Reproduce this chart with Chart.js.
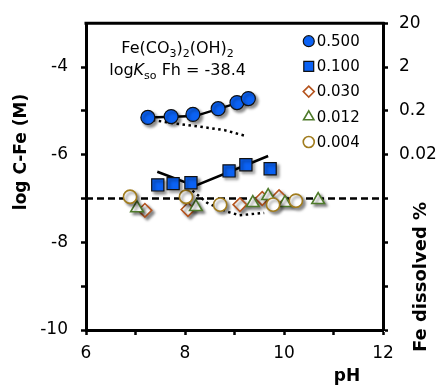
<!DOCTYPE html>
<html>
<head>
<meta charset="utf-8">
<script src="https://cdn.jsdelivr.net/npm/chart.js@4.4.1/dist/chart.umd.min.js"></script>
<style>
  html, body { margin: 0; padding: 0; background: #fff; }
  canvas { display: block; }
</style>
</head>
<body>
<canvas id="chart" width="436" height="388"></canvas>
<script>
// Fe loading of each series (legend labels)
const seriesNames = ['0.500', '0.100', '0.030', '0.012', '0.004'];

// measured points: pH and log C-Fe (M)
const ph500 = [7.25, 7.72, 8.16, 8.67, 9.05, 9.28];
const logC500 = [-5.15, -5.13, -5.08, -4.95, -4.81, -4.72];
const ph100 = [7.45, 7.76, 8.12, 8.89, 9.23, 9.72];
const logC100 = [-6.69, -6.66, -6.64, -6.37, -6.23, -6.32];
const ph030 = [7.19, 8.06, 9.11, 9.56, 9.90];
const logC030 = [-7.27, -7.25, -7.14, -7.00, -6.96];
const ph012 = [7.03, 8.22, 9.37, 9.68, 10.02, 10.69];
const logC012 = [-7.22, -7.19, -7.10, -6.94, -7.10, -7.03];
const ph004 = [6.89, 8.02, 8.71, 9.78, 10.24];
const logC004 = [-6.96, -6.96, -7.14, -7.14, -7.05];

// model curves
const fitPh500 = [7.12, 8.2, 9.35];
const fitLogC500 = [-5.16, -5.12, -4.72];
const dotPh500 = [7.35, 7.8, 8.3, 8.8, 9.25];
const dotLogC500 = [-5.21, -5.29, -5.36, -5.44, -5.58];
const fitPh100 = [7.44, 8.2, 9.68];
const fitLogC100 = [-6.39, -6.71, -6.03];
const dotPh100 = [8.15, 8.45, 8.85, 9.1, 9.6];
const dotLogC100 = [-6.82, -7.1, -7.3, -7.38, -7.33];
const limitPh = [6, 12];
const limitLogC = [-7, -7];

// right axis: Fe dissolved % at given log C-Fe
const rightTickValues = [-3, -4, -5, -6];
const rightTickLabels = ['20', '2', '0.2', '0.02'];

function toXY(xs, ys) {
  return xs.map((x, i) => ({ x: x, y: ys[i] }));
}

const markerStyles = [
  { pointStyle: 'circle', radius: 7, fill: '#0B62F4', stroke: '#111', width: 1.2, lr: 5.5 },
  { pointStyle: 'rect', radius: 8.6, fill: '#0B62F4', stroke: '#111', width: 1.2, lr: 7 },
  { pointStyle: 'rectRot', radius: 6.8, fill: '#fff', stroke: '#B5541E', width: 1.6, lr: 5.5 },
  { pointStyle: 'triangle', radius: 7.3, fill: '#fff', stroke: '#4E7A2A', width: 1.6, lr: 6 },
  { pointStyle: 'circle', radius: 6.6, fill: '#fff', stroke: '#A17C1E', width: 1.6, lr: 5.5 }
];
const seriesX = [ph500, ph100, ph030, ph012, ph004];
const seriesY = [logC500, logC100, logC030, logC012, logC004];
const drawOrder = [0, 0, 3, 2, 1];

const datasets = seriesNames.map((name, i) => ({
  label: name,
  data: toXY(seriesX[i], seriesY[i]),
  pointStyle: markerStyles[i].pointStyle,
  pointRadius: markerStyles[i].radius,
  backgroundColor: markerStyles[i].fill,
  borderColor: markerStyles[i].stroke,
  borderWidth: markerStyles[i].width,
  order: drawOrder[i],
  shadow: true
}));

function curve(xs, ys, dash) {
  return {
    data: toXY(xs, ys),
    showLine: true,
    pointRadius: 0,
    borderColor: '#000',
    borderWidth: 2.5,
    borderDash: dash,
    borderCapStyle: 'butt',
    fill: false,
    order: 5
  };
}
datasets.push(curve(fitPh500, fitLogC500, []));
datasets.push(curve(dotPh500, dotLogC500, [2.5, 3.5]));
datasets.push(curve(fitPh100, fitLogC100, []));
datasets.push(curve(dotPh100, dotLogC100, [2.5, 3.5]));
datasets.push(curve(limitPh, limitLogC, [7, 4]));

// drop shadow on the markers
const shadowPlugin = {
  id: 'shadow',
  beforeDatasetDraw(chart, args) {
    const ctx = chart.ctx;
    ctx.save();
    if (args.meta._dataset.shadow) {
      ctx.shadowColor = 'rgba(0,0,0,0.45)';
      ctx.shadowBlur = 3;
      ctx.shadowOffsetX = 2.5;
      ctx.shadowOffsetY = 2.5;
    }
  },
  afterDatasetDraw(chart) {
    chart.ctx.restore();
  }
};

function drawRuns(ctx, runs, cx, baseline) {
  let total = 0;
  runs.forEach(r => { ctx.font = r.font; total += ctx.measureText(r.t).width; });
  let x = cx - total / 2;
  ctx.textAlign = 'left';
  ctx.textBaseline = 'alphabetic';
  runs.forEach(r => {
    ctx.font = r.font;
    ctx.fillText(r.t, x, baseline + (r.dy || 0));
    x += ctx.measureText(r.t).width;
  });
}

const decorPlugin = {
  id: 'decor',
  afterDraw(chart) {
    const ctx = chart.ctx;
    const a = chart.chartArea;
    const xs = chart.scales.x, ys = chart.scales.y;
    ctx.save();
    // top frame line
    ctx.strokeStyle = '#000';
    ctx.lineWidth = 3;
    ctx.beginPath();
    ctx.moveTo(a.left - 1.5, a.top);
    ctx.lineTo(a.right + 1.5, a.top);
    ctx.stroke();

    ctx.fillStyle = '#000';
    // annotation
    const big = '16px "DejaVu Sans"', sub = '11px "DejaVu Sans"';
    const cx = xs.getPixelForValue(7.85);
    drawRuns(ctx, [
      { t: 'Fe(CO', font: big }, { t: '3', font: sub, dy: 4 },
      { t: ')', font: big }, { t: '2', font: sub, dy: 4 },
      { t: '(OH)', font: big }, { t: '2', font: sub, dy: 4 }
    ], cx, ys.getPixelForValue(-3.68));
    drawRuns(ctx, [
      { t: 'log', font: big }, { t: 'K', font: 'italic 16px "DejaVu Sans"' },
      { t: 'so', font: sub, dy: 4 }, { t: ' Fh = -38.4', font: big }
    ], cx, ys.getPixelForValue(-4.18));

    // legend
    const lx = xs.getPixelForValue(10.5);
    seriesNames.forEach((name, i) => {
      const ly = a.top + 18 + i * 25.2;
      const m = markerStyles[i];
      ctx.fillStyle = m.fill;
      ctx.strokeStyle = m.stroke;
      ctx.lineWidth = m.width;
      Chart.helpers.drawPoint(ctx, { pointStyle: m.pointStyle, radius: m.lr, rotation: 0, borderWidth: m.width }, lx, ly);
      ctx.fillStyle = '#000';
      ctx.font = '15px "DejaVu Sans"';
      ctx.textAlign = 'left';
      ctx.textBaseline = 'middle';
      ctx.fillText(name, lx + 8, ly + 1);
    });

    // axis titles
    ctx.font = 'bold 17px "DejaVu Sans"';
    ctx.textAlign = 'center';
    ctx.textBaseline = 'middle';
    ctx.fillText('pH', 347, 377);
    ctx.save();
    ctx.translate(22, 152);
    ctx.rotate(-Math.PI / 2);
    ctx.fillText('log C-Fe (M)', 0, 0);
    ctx.restore();
    ctx.save();
    ctx.font = 'bold 18px "DejaVu Sans"';
    ctx.translate(421, 277);
    ctx.rotate(-Math.PI / 2);
    ctx.fillText('Fe dissolved %', 0, 0);
    ctx.restore();
    ctx.restore();
  }
};

Chart.defaults.font.family = '"DejaVu Sans"';
Chart.defaults.font.size = 17;
Chart.defaults.color = '#000';

const tickGrid = {
  drawOnChartArea: false,
  drawTicks: true,
  tickLength: 5,
  tickWidth: 2.5,
  tickColor: '#000'
};

new Chart(document.getElementById('chart'), {
  type: 'scatter',
  data: { datasets: datasets },
  plugins: [shadowPlugin, decorPlugin],
  options: {
    responsive: false,
    animation: false,
    layout: { padding: { top: 20, left: 0, right: 0, bottom: 0 } },
    plugins: { legend: { display: false }, tooltip: { enabled: false } },
    scales: {
      x: {
        type: 'linear', position: 'bottom', min: 6, max: 12,
        ticks: { stepSize: 1, autoSkip: false, maxRotation: 0, padding: 8,
                 callback: v => (v % 2 === 0 ? v : '') },
        grid: tickGrid,
        border: { display: true, color: '#000', width: 3 },
        afterFit: s => { s.height = 58; }
      },
      y: {
        type: 'linear', position: 'left', min: -10, max: -3,
        ticks: { stepSize: 1, padding: 13, callback: v => (v % 2 === 0 ? v : '') },
        grid: Object.assign({}, tickGrid, {
          tickColor: c => (c.tick && c.tick.value === -3 ? 'rgba(0,0,0,0)' : '#000')
        }),
        border: { display: true, color: '#000', width: 3 },
        afterFit: s => { s.width = 86; }
      },
      y2: {
        type: 'linear', position: 'right', min: -10, max: -3, display: true,
        ticks: { stepSize: 1, padding: 11, callback: v => {
          const i = rightTickValues.indexOf(v);
          return i >= 0 ? rightTickLabels[i] : '';
        } },
        grid: tickGrid,
        border: { display: true, color: '#000', width: 3 },
        afterFit: s => { s.width = 53; }
      }
    }
  }
});
</script>
</body>
</html>
